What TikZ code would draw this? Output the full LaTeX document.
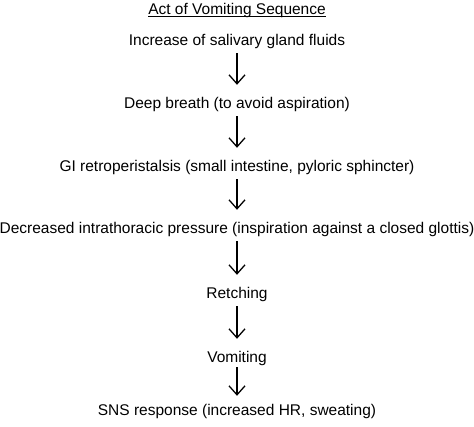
\documentclass[tikz,border=0pt]{standalone}
\usepackage{fontspec}
\setmainfont{Liberation Sans}
\usetikzlibrary{arrows.meta}
\begin{document}
\begin{tikzpicture}[x=1pt,y=-1pt,
  stepbox/.style={anchor=base, inner sep=0pt, text height=23pt, text depth=8pt, font=\fontsize{15.5}{18}\selectfont},
  ttl/.style={anchor=base, inner sep=0pt, text height=11pt, text depth=2.2pt, font=\fontsize{15.5}{18}\selectfont},
  arr/.style={line width=1.3pt, -{Straight Barb[length=9pt,width=16pt]}}]
\useasboundingbox (0,0) rectangle (474,426);
\node[ttl] (t) at (237,14) {Act of Vomiting Sequence};
\draw[line width=0.9pt] (t.south west) -- (t.south east);
\node[stepbox] (a) at (237,45) {Increase of salivary gland fluids};
\node[stepbox] (b) at (237,108) {Deep breath (to avoid aspiration)};
\node[stepbox] (c) at (237,171) {GI retroperistalsis (small intestine, pyloric sphincter)};
\node[stepbox] (d) at (237,233) {Decreased intrathoracic pressure (inspiration against a closed glottis)};
\node[stepbox] (e) at (237,298) {Retching};
\node[stepbox, text depth=5pt] (f) at (237,362) {Vomiting};
\node[stepbox, text height=19pt] (g) at (237,415) {SNS response (increased HR, sweating)};
\draw[arr] (a.south) -- (b.north);
\draw[arr] (b.south) -- (c.north);
\draw[arr] (c.south) -- (d.north);
\draw[arr] (d.south) -- (e.north);
\draw[arr] (e.south) -- (f.north);
\draw[arr] (f.south) -- (g.north);
\end{tikzpicture}
\end{document}
